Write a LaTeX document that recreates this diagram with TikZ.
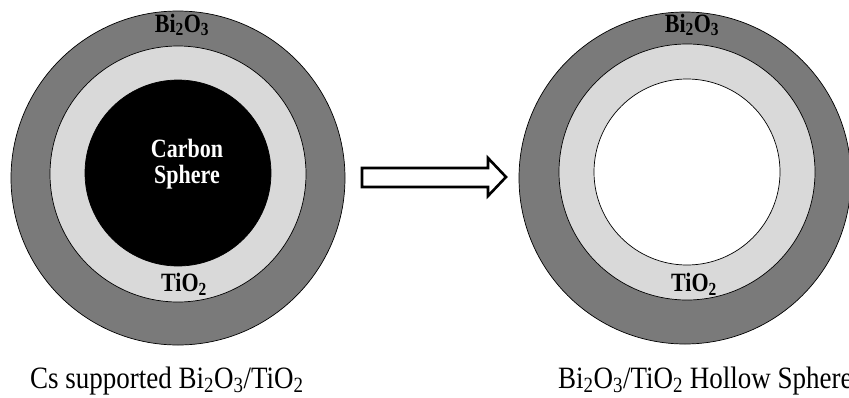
\documentclass[tikz,border=0pt]{standalone}
\usepackage{fontspec}
\setmainfont{Liberation Serif}
\definecolor{shellDark}{HTML}{7A7A7A}
\definecolor{shellLight}{HTML}{D9D9D9}
\newcommand{\tallA}[1]{\scalebox{1}[1.2]{#1}}
\newcommand{\capT}[1]{\scalebox{1}[1.15]{#1}}
\begin{document}
\begin{tikzpicture}[x=1pt,y=-1pt,
  ring/.style={circle,draw=black,line width=0.7pt,inner sep=0pt},
  layerlabel/.style={font=\bfseries\fontsize{22}{24}\selectfont,text=black,inner sep=0pt},
  caption/.style={font=\fontsize{27}{29}\selectfont,anchor=base west,inner sep=0pt},
  bigarrow/.style={draw=black,line width=2.6pt,fill=white,line join=miter}]
\clip (0,0) rectangle (849,397);
\useasboundingbox (0,0) rectangle (849,397);
\fill[white] (0,0) rectangle (849,397);
% left particle
\node[ring,fill=shellDark,minimum size=334pt] (lo) at (178,178) {};
\node[ring,fill=shellLight,minimum size=256pt] (lm) at (178,174) {};
\node[ring,fill=black,minimum size=186pt] (li) at (178,173) {};
\node[layerlabel] (lb) at (182,25) {\tallA{Bi\textsubscript{2}O\textsubscript{3}}};
\node[layerlabel] (lt) at (184,284) {\tallA{TiO\textsubscript{2}}};
\node[font=\bfseries\fontsize{22}{22}\selectfont,text=white,align=center,inner sep=0pt] (lc) at (187,164) {\tallA{Carbon}\\[4pt]\tallA{Sphere}};
% right particle
\node[ring,fill=shellDark,minimum size=332pt] (ro) at (685,178) {};
\node[ring,fill=shellLight,minimum size=256pt] (rm) at (687,172) {};
\node[ring,fill=white,minimum size=186pt] (ri) at (687,172) {};
\node[layerlabel] (rb) at (692,25) {\tallA{Bi\textsubscript{2}O\textsubscript{3}}};
\node[layerlabel] (rt) at (694,284) {\tallA{TiO\textsubscript{2}}};
% arrow
\draw[bigarrow] (362,168) -- (488,168) -- (488,158) -- (506,177) -- (488,196) -- (488,187) -- (362,187) -- cycle;
% captions
\node[caption] (lcap) at (30,388) {\capT{Cs supported Bi\textsubscript{2}O\textsubscript{3}/TiO\textsubscript{2}}};
\node[caption] (rcap) at (558,388) {\capT{Bi\textsubscript{2}O\textsubscript{3}/TiO\textsubscript{2} Hollow Sphere}};
\end{tikzpicture}
\end{document}
